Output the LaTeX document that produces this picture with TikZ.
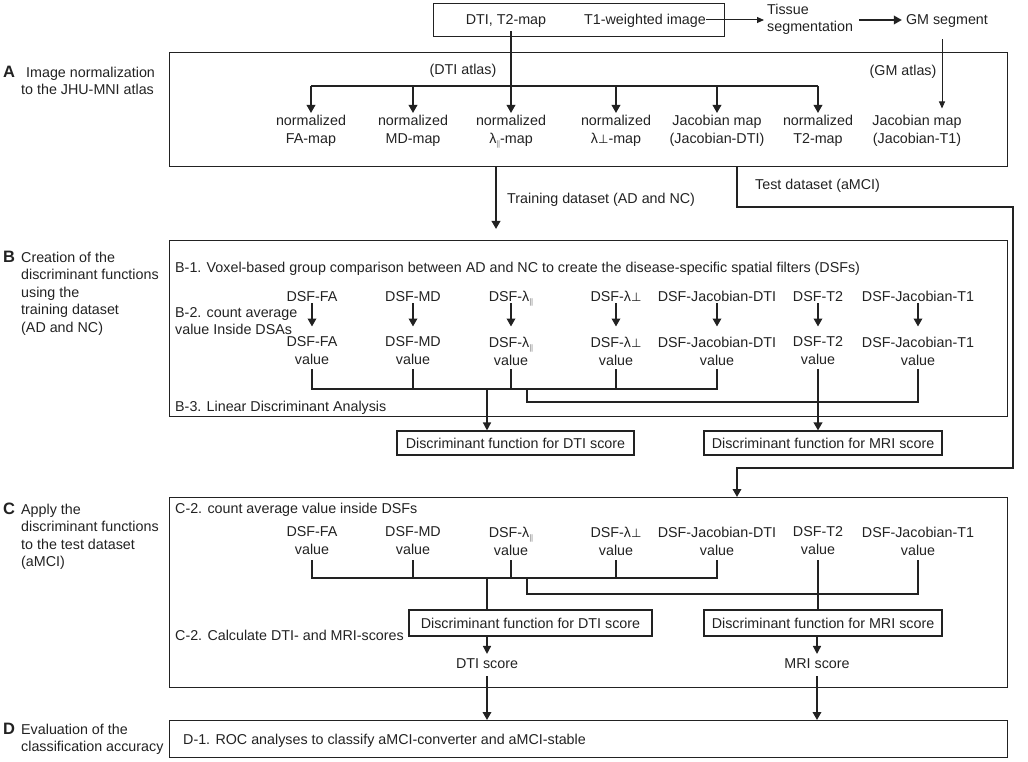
\documentclass[tikz,border=0pt]{standalone}
\usepackage{fontspec}
\setmainfont{Liberation Sans}
\newfontfamily\dvfont{DejaVu Sans}
\usetikzlibrary{arrows.meta}
\definecolor{ink}{HTML}{222222}
\newcommand{\lpar}{λ\raisebox{-3pt}{\fontsize{8}{8}\selectfont\textcolor{gray}{|\kern-0.4pt|}}}
\newcommand{\lperp}{λ{\dvfont\fontsize{12}{12}\selectfont ⊥}}
\begin{document}
\begin{tikzpicture}[x=1pt,y=-1pt,
  txt/.style={font=\fontsize{14.3}{18}\selectfont, text=ink, inner sep=0pt, align=center},
  one/.style={txt, anchor=base},
  lbl/.style={txt, align=left, font=\fontsize{14.3}{17.5}\selectfont},
  letter/.style={font=\fontsize{16.5}{16.5}\selectfont\bfseries, text=ink, inner sep=0pt},
  panel/.style={draw=ink, line width=1.3pt, anchor=north west, inner sep=0pt, minimum width=838pt},
  fbox/.style={draw=ink, line width=1.1pt, txt, inner sep=0pt},
  arr/.style={draw=ink, line width=1.8pt, -{Triangle[length=8pt,width=8.5pt]}},
  marr/.style={draw=ink, line width=1.4pt, -{Triangle[length=8pt,width=8pt]}},
  thinarr/.style={draw=ink, line width=1pt, -{Triangle[length=7pt,width=6pt]}},
  tie/.style={draw=ink, line width=1.8pt},
  mline/.style={draw=ink, line width=1.4pt}]
\useasboundingbox (0,0) rectangle (1028,762);

% ---------- panels ----------
\node[panel, minimum height=114pt] (boxA) at (169,52) {};
\node[panel, minimum height=176pt] (boxB) at (169,240) {};
\node[panel, minimum height=190pt] (boxC) at (169,497) {};
\node[panel, minimum height=37pt] (boxD) at (169,720) {};

% ---------- left labels ----------
\node[letter] (LA) at (9,72) {A};
\node[lbl, anchor=north west] (tA) at (21,66.5) {\hspace*{5pt}Image normalization\\to the JHU-MNI atlas};
\node[letter] (LB) at (9,257) {B};
\node[lbl, anchor=north west] (tB) at (21,251.5) {Creation of the\\discriminant functions\\using the\\training dataset\\(AD and NC)};
\node[letter] (LC) at (9,509) {C};
\node[lbl, anchor=north west] (tC) at (21,503.5) {Apply the\\discriminant functions\\to the test dataset\\(aMCI)};
\node[letter] (LD) at (9,729) {D};
\node[lbl, anchor=north west] (tD) at (21,723.5) {Evaluation of the\\classification accuracy};

% ---------- top ----------
\node[fbox, minimum width=291pt, minimum height=33pt, anchor=north west] (topbox) at (433,3) {};
\node[one] (dti) at (506,25) {DTI, T2-map};
\node[one] (t1w) at (645,25) {T1-weighted image};
\node[lbl, anchor=west, font=\fontsize{14.3}{17}\selectfont] (tissue) at (767,19.5) {Tissue\\segmentation};
\node[one] (gm) at (947,25) {GM segment};
\draw[thinarr, shorten >=3pt] (t1w.east |- 0,20) -- (tissue.west |- 0,20);
\draw[arr, shorten <=6pt, shorten >=4pt] (tissue.east |- 0,20) -- (gm.west |- 0,20);

% ---------- panel A ----------
\node[one] (dtiatlas) at (463,75) {(DTI atlas)};
\node[one] (gmatlas) at (903,76) {(GM atlas)};
\node[txt, anchor=north] (aFA) at (311,114.5) {normalized\\FA-map};
\node[txt, anchor=north] (aMD) at (413,114.5) {normalized\\MD-map};
\node[txt, anchor=north] (aLpar) at (511,114.5) {normalized\\\lpar-map};
\node[txt, anchor=north] (aLperp) at (616,114.5) {normalized\\\lperp-map};
\node[txt, anchor=north] (aJD) at (717,114.5) {Jacobian map\\(Jacobian-DTI)};
\node[txt, anchor=north] (aT2) at (818,114.5) {normalized\\T2-map};
\node[txt, anchor=north] (aJT1) at (917,114.5) {Jacobian map\\(Jacobian-T1)};

\coordinate (brA) at (0,86);
\coordinate (gmx) at (942,0);
\draw[tie] (aFA.north |- brA) -- (aT2.north |- brA);
\draw[arr, shorten <=3pt, shorten >=1.5pt] (dti.south -| aLpar.north) -- (aLpar.north);
\foreach \n in {aFA,aMD,aLperp,aJD,aT2}{
  \draw[arr, shorten >=1.5pt] (\n.north |- brA) -- (\n.north);
}
\draw[thinarr, shorten <=11pt, shorten >=6pt] (gm.south -| gmx) -- (aJT1.north -| gmx);

% ---------- between A and B/C ----------
\node[one, anchor=base west] (train) at (507,204) {Training dataset (AD and NC)};
\node[one, anchor=base west] (test) at (755,190) {Test dataset (aMCI)};
\coordinate (trx) at (496,0);
\coordinate (bTopArrow) at (496,229);
\draw[arr, line width=2.5pt] (boxA.south -| trx) -- (bTopArrow);
\coordinate (tsx) at (737,0);
\coordinate (tsR1) at (1013,207);
\coordinate (tsR2) at (1013,468);
\draw[arr] (boxA.south -| tsx) |- (tsR1) -- (tsR2) -| (boxC.north -| tsx);

% ---------- panel B ----------
\node[one, anchor=base west] (b1) at (175,272) {B-1. Voxel-based group comparison between AD and NC to create the disease-specific spatial filters (DSFs)};
\node[lbl, anchor=north west, font=\fontsize{14.3}{16.5}\selectfont] (b2) at (175,307.5) {B-2. count average\\value Inside DSAs};
\node[one, anchor=base west] (b3) at (175,411) {B-3. Linear Discriminant Analysis};

\node[one] (bN1) at (312,301) {DSF-FA};
\node[one] (bN2) at (413,301) {DSF-MD};
\node[one] (bN3) at (511,301) {DSF-\lpar};
\node[one] (bN4) at (616,301) {DSF-\lperp};
\node[one] (bN5) at (717,301) {DSF-Jacobian-DTI};
\node[one] (bN6) at (818,301) {DSF-T2};
\node[one] (bN7) at (918,301) {DSF-Jacobian-T1};

\node[txt, anchor=north] (bV1) at (312,336.5) {DSF-FA\\value};
\node[txt, anchor=north] (bV2) at (413,336.5) {DSF-MD\\value};
\node[txt, anchor=north] (bV3) at (511,336.5) {DSF-\lpar\\value};
\node[txt, anchor=north] (bV4) at (616,336.5) {DSF-\lperp\\value};
\node[txt, anchor=north] (bV5) at (717,336.5) {DSF-Jacobian-DTI\\value};
\node[txt, anchor=north] (bV6) at (818,336.5) {DSF-T2\\value};
\node[txt, anchor=north] (bV7) at (918,336.5) {DSF-Jacobian-T1\\value};

\foreach \i in {1,...,7}{
  \draw[arr, shorten >=10pt] (bN\i.south |- 0,303) -- (bV\i.north);
}

\coordinate (yB1) at (0,389);
\coordinate (yB2) at (0,402);
\coordinate (dx) at (487,0);
\coordinate (x527) at (527,0);
\draw[tie, shorten <=4pt, shorten >=4pt] (bV1.south) |- (bV5.south |- yB1) -- (bV5.south);
\foreach \i in {2,3,4}{
  \draw[tie, shorten <=4pt] (bV\i.south) -- (bV\i.south |- yB1);
}
\draw[tie, shorten >=4pt] (x527 |- yB1) |- (bV7.south |- yB2) -- (bV7.south);

\node[fbox, minimum width=237pt, minimum height=24pt] (bDTI) at (515.5,443) {Discriminant function for DTI score};
\node[fbox, minimum width=238pt, minimum height=24pt] (bMRI) at (823,443) {Discriminant function for MRI score};

\draw[marr] (dx |- yB1) -- (bDTI.north -| dx);
\draw[arr, line width=2.5pt, shorten <=4pt] (bV6.south) -- (bMRI.north -| bV6.south);

% ---------- panel C ----------
\node[one, anchor=base west] (c1) at (175,513) {C-2. count average value inside DSFs};
\node[txt, anchor=north] (cV1) at (312,526.5) {DSF-FA\\value};
\node[txt, anchor=north] (cV2) at (413,526.5) {DSF-MD\\value};
\node[txt, anchor=north] (cV3) at (511,526.5) {DSF-\lpar\\value};
\node[txt, anchor=north] (cV4) at (616,526.5) {DSF-\lperp\\value};
\node[txt, anchor=north] (cV5) at (717,526.5) {DSF-Jacobian-DTI\\value};
\node[txt, anchor=north] (cV6) at (818,526.5) {DSF-T2\\value};
\node[txt, anchor=north] (cV7) at (918,526.5) {DSF-Jacobian-T1\\value};

\coordinate (yC1) at (0,578);
\coordinate (yC2) at (0,594);
\draw[tie, shorten <=5pt, shorten >=5pt] (cV1.south) |- (cV5.south |- yC1) -- (cV5.south);
\foreach \i in {2,3,4}{
  \draw[tie, shorten <=5pt] (cV\i.south) -- (cV\i.south |- yC1);
}
\draw[tie, shorten >=5pt] (x527 |- yC1) |- (cV7.south |- yC2) -- (cV7.south);

\node[fbox, minimum width=243pt, minimum height=26pt] (cDTI) at (530.5,623) {Discriminant function for DTI score};
\node[fbox, minimum width=238pt, minimum height=26pt] (cMRI) at (823,623) {Discriminant function for MRI score};
\node[one, anchor=base west] (c2) at (175,640) {C-2. Calculate DTI- and MRI-scores};

\draw[mline] (dx |- yC1) -- (cDTI.north -| dx);
\draw[mline, shorten <=5pt] (cV6.south) -- (cMRI.north -| cV6.south);

\node[one] (dtis) at (487,668) {DTI score};
\node[one] (mris) at (817,668) {MRI score};
\draw[marr, shorten >=4pt] (cDTI.south -| dtis) -- (dtis.north);
\draw[marr, shorten >=4pt] (cMRI.south -| mris) -- (mris.north);

% ---------- panel D ----------
\node[one, anchor=base west] (d1) at (183,744) {D-1. ROC analyses to classify aMCI-converter and aMCI-stable};
\draw[arr, shorten <=8pt] (dtis.south) -- (boxD.north -| dtis);
\draw[arr, shorten <=8pt] (mris.south) -- (boxD.north -| mris);
\end{tikzpicture}
\end{document}
